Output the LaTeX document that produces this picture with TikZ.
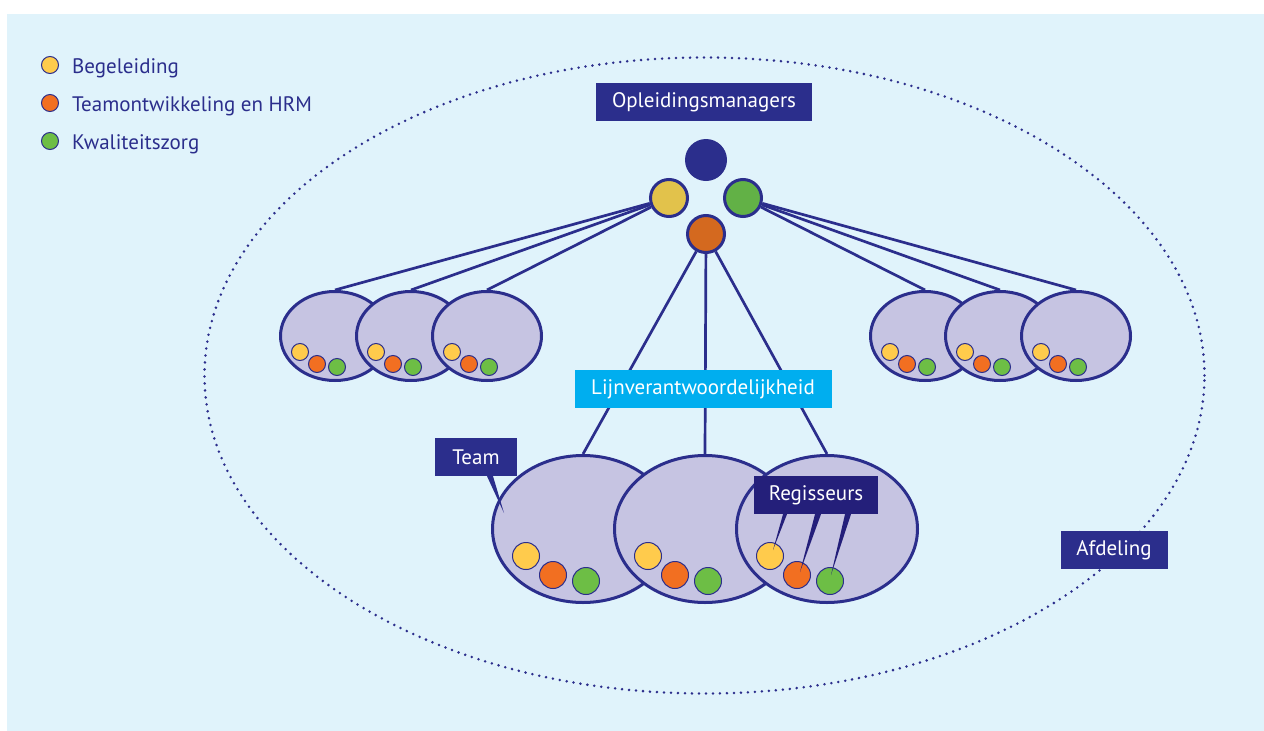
\documentclass[tikz,border=0pt]{standalone}
\usepackage{fontspec}
\setmainfont{PT Sans}
\usepackage{xcolor}
\usetikzlibrary{shapes.geometric,positioning}

\definecolor{navy}{HTML}{2B2E8C}
\definecolor{regnavy}{HTML}{241F7A}
\definecolor{lineblue}{HTML}{00AEEF}
\definecolor{bgblue}{HTML}{E0F3FB}
\definecolor{lavender}{HTML}{C6C4E2}
\definecolor{bigyellow}{HTML}{E2C24B}
\definecolor{biggreen}{HTML}{62B146}
\definecolor{bigorange}{HTML}{D4691F}
\definecolor{dotyellow}{HTML}{FFCB4C}
\definecolor{dotorange}{HTML}{F26F21}
\definecolor{dotgreen}{HTML}{6DBE45}

\tikzset{
  labelbox/.style={fill=navy, text=white, minimum height=38pt, inner sep=0pt,
    font=\fontsize{21}{25}\selectfont},
  legtext/.style={text=navy, inner sep=0pt, font=\fontsize{21}{25}\selectfont},
  teamell/.style={ellipse, draw=navy, line width=3pt, fill=lavender, inner sep=0pt,
    minimum width=181pt, minimum height=147pt},
  subell/.style={ellipse, draw=navy, line width=3pt, fill=lavender, inner sep=0pt,
    minimum width=109pt, minimum height=89pt},
  bigdot/.style={circle, draw=navy, line width=3pt, inner sep=0pt, minimum size=37pt},
  smalldot/.style={circle, draw=navy, line width=1pt, inner sep=0pt, minimum size=#1},
  link/.style={navy, line width=2.7pt},
}

\begin{document}
\begin{tikzpicture}[x=1pt,y=-1pt]
  % Background
  \useasboundingbox (0,0) rectangle (1264,731);
  \fill[bgblue] (7,14) rectangle (1264,731);

  % Afdeling border
  \draw[navy, line width=2.8pt, line cap=round, dash pattern=on 0pt off 7pt]
    (704.5,375.5) ellipse [x radius=500pt, y radius=318pt];

  % Legend
  \node[smalldot=17pt, fill=dotyellow] (lg1) at (50,65) {};
  \node[smalldot=17pt, fill=dotorange] (lg2) at (50,103) {};
  \node[smalldot=17pt, fill=dotgreen] (lg3) at (50,141) {};
  \node[legtext, anchor=base west] at ([xshift=13pt, yshift=-8pt]lg1.east) {Begeleiding};
  \node[legtext, anchor=base west] at ([xshift=13pt, yshift=-8pt]lg2.east) {Teamontwikkeling en HRM};
  \node[legtext, anchor=base west] at ([xshift=13pt, yshift=-8pt]lg3.east) {Kwaliteitszorg};

  % Opleidingsmanagers
  \node[labelbox, minimum width=216pt] (om) at (704,102) {Opleidingsmanagers};
  \node[circle, fill=navy, inner sep=0pt, minimum size=42pt] (omtop) at (706,160) {};
  \node[bigdot, fill=bigyellow] (omy) at (669,198) {};
  \node[bigdot, fill=biggreen] (omg) at (743,198) {};
  \node[bigdot, fill=bigorange] (omo) at (706,234) {};

  % Small teams left and right
  \foreach \n/\x in {l1/335, l2/411, l3/487, r1/925, r2/1000, r3/1076} {
    \node[subell] (\n) at (\x,336) {};
    \node[smalldot=17pt, fill=dotyellow] at ([shift={(-35,16)}]\n.center) {};
    \node[smalldot=17pt, fill=dotorange] at ([shift={(-18,28)}]\n.center) {};
    \node[smalldot=17pt, fill=dotgreen] at ([shift={(2,31)}]\n.center) {};
  }

  % Large teams
  \foreach \n/\x in {b1/583, b2/705, b3/827} {
    \node[teamell] (\n) at (\x,529) {};
    \node[smalldot=27pt, fill=dotyellow] (\n-y) at ([shift={(-57,27)}]\n.center) {};
    \node[smalldot=27pt, fill=dotorange] (\n-o) at ([shift={(-30,46)}]\n.center) {};
    \node[smalldot=27pt, fill=dotgreen] (\n-g) at ([shift={(3,52)}]\n.center) {};
  }

  % Connectors
  \draw[link] (omy) -- (l1.north);
  \draw[link] (omy) -- (l2.north);
  \draw[link] (omy) -- (l3.north);
  \draw[link] (omg) -- (r1.north);
  \draw[link] (omg) -- (r2.north);
  \draw[link] (omg) -- (r3.north);
  \draw[link] (omo) -- (b1.north);
  \draw[link] (omo) -- (b2.north);
  \draw[link] (omo) -- (b3.north);

  % Labels
  \node[labelbox, fill=lineblue, minimum width=257pt] (lv) at (703,389) {Lijnverantwoordelijkheid};
  \node[labelbox, minimum width=82pt] (team) at (476,457) {Team};
  \node[labelbox, fill=regnavy, minimum width=124pt] (reg) at (816,495) {Regisseurs};
  \node[labelbox, minimum width=107pt] (afd) at (1114,550) {Afdeling};

  % Pointers
  \fill[navy] ([xshift=11pt]team.south) -- ([xshift=17pt]team.south) -- ([shift={(-79,-16)}]b1.center) -- cycle;
  \fill[regnavy] ([xshift=-33pt]reg.south) -- ([xshift=-29pt]reg.south) -- ([shift={(3,-6)}]b3-y.center) -- cycle;
  \fill[regnavy] ([xshift=-1pt]reg.south) -- ([xshift=5pt]reg.south) -- ([shift={(3,-3)}]b3-o.center) -- cycle;
  \fill[regnavy] ([xshift=29pt]reg.south) -- ([xshift=35pt]reg.south) -- ([shift={(1,-6)}]b3-g.center) -- cycle;
\end{tikzpicture}
\end{document}
